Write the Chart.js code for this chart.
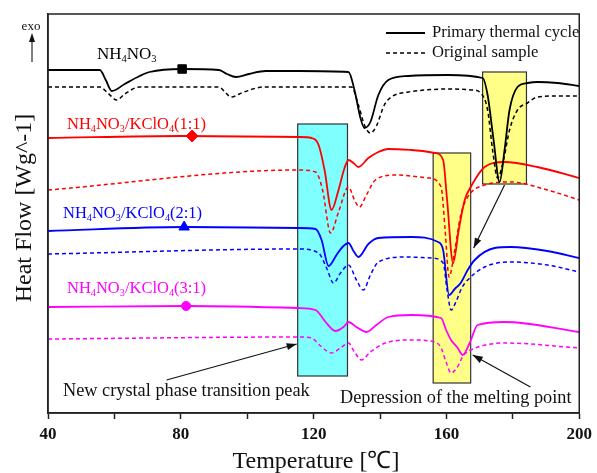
<!DOCTYPE html>
<html>
<head>
<meta charset="utf-8">
<script src="https://cdn.jsdelivr.net/npm/chart.js@4.4.0/dist/chart.umd.min.js"></script>
<style>
  html, body { margin: 0; padding: 0; background: #fff; }
</style>
</head>
<body>
<canvas id="dsc" width="597" height="473"></canvas>
<script>
// temperatures (°C) and heat flow (arbitrary offset units)
const anPrimaryT = [40, 55.6, 57.4, 59.2, 63.1, 67.6, 70.6, 80.4, 91.5, 93.9, 96.6, 100.5, 105.6, 115.5, 130.5, 132.3, 134.1, 135.3, 137.1, 139.5, 142.5, 148.5, 160.4, 170.9, 172.4, 174.2, 176.0, 177.5, 179.0, 181.4, 184.4, 187.4, 193.4, 200];
const anPrimaryV = [34.3, 34.3, 33.3, 32.2, 32.9, 33.7, 34.1, 34.4, 34.3, 33.9, 33.6, 33.9, 34.2, 34.2, 34.1, 32.3, 29.5, 28.5, 29.1, 31.8, 33.3, 33.7, 33.8, 33.5, 31.8, 27.3, 23.1, 26.3, 30.3, 32.6, 33.0, 33.1, 33.0, 32.7];
const anOrigT = [40, 55.6, 58.0, 60.7, 63.1, 67.6, 91.5, 93.3, 95.1, 99.0, 105.0, 115.5, 131.4, 133.5, 135.3, 137.1, 138.9, 141.3, 143.4, 148.5, 153.6, 160.4, 167.9, 170.3, 172.4, 173.9, 175.4, 177.2, 179.0, 181.4, 184.4, 187.4, 193.4, 200];
const anOrigV = [32.6, 32.6, 32.0, 31.3, 31.9, 32.6, 32.6, 32.1, 31.6, 32.1, 32.6, 32.6, 32.6, 30.8, 28.8, 28.0, 28.7, 30.8, 31.6, 32.1, 32.3, 32.4, 32.3, 32.0, 30.3, 26.3, 23.5, 25.3, 28.3, 30.3, 31.0, 31.6, 31.7, 31.7];

const mix11PrimaryT = [40, 80.4, 115.5, 119.4, 121.5, 123.3, 125.4, 127.5, 129.3, 130.5, 132.0, 133.5, 136.5, 139.5, 142.5, 149.4, 156.6, 159.0, 160.2, 162.0, 163.7, 165.5, 167.3, 171.5, 177.5, 187.4, 200];
const mix11PrimaryV = [27.5, 27.7, 27.6, 27.5, 26.8, 24.3, 20.3, 22.3, 24.5, 25.3, 25.0, 24.6, 25.5, 26.1, 26.4, 26.3, 26.0, 25.3, 21.3, 15.0, 18.3, 21.3, 22.6, 24.6, 25.1, 24.6, 23.5];
const mix11OrigT = [40, 115.5, 120.6, 122.7, 125.1, 127.5, 130.5, 132.3, 133.8, 135.9, 138.6, 144.6, 154.5, 158.4, 159.6, 160.8, 162.5, 164.3, 166.4, 171.5, 179.3, 190.4, 200];
const mix11OrigV = [22.3, 24.3, 24.1, 22.3, 18.0, 20.1, 22.6, 21.3, 20.6, 21.8, 23.3, 23.8, 23.5, 22.6, 18.3, 13.6, 16.3, 19.8, 21.6, 22.8, 23.1, 22.3, 21.3];

const mix21PrimaryT = [40, 81.0, 115.5, 120.6, 122.4, 124.5, 126.9, 128.7, 130.5, 132.0, 133.5, 136.5, 139.5, 149.4, 157.5, 159.0, 160.8, 162.5, 164.3, 166.4, 168.5, 174.5, 179.3, 190.4, 200];
const mix21PrimaryV = [18.2, 18.6, 18.5, 18.4, 17.3, 14.7, 15.8, 16.6, 17.0, 16.2, 15.6, 16.9, 17.5, 17.6, 17.1, 16.3, 11.8, 12.4, 13.0, 14.3, 15.3, 16.5, 16.6, 16.2, 15.5];
const mix21OrigT = [40, 115.5, 121.5, 123.9, 126.0, 128.1, 130.5, 132.9, 135.0, 137.1, 139.5, 147.6, 155.4, 159.0, 160.2, 161.4, 163.1, 164.6, 166.4, 171.5, 179.3, 190.4, 200];
const mix21OrigV = [15.9, 16.4, 16.0, 14.5, 13.0, 14.0, 14.8, 13.3, 12.3, 13.8, 15.1, 15.6, 15.5, 15.0, 12.3, 10.3, 11.3, 12.5, 13.3, 14.6, 15.1, 14.8, 14.1];

const mix31PrimaryT = [40, 81.6, 115.5, 120.6, 123.6, 126.6, 129.0, 130.5, 132.9, 135.9, 138.9, 142.5, 149.4, 158.4, 159.9, 161.4, 163.4, 164.9, 167.0, 169.4, 177.5, 200];
const mix31PrimaryV = [10.6, 10.7, 10.5, 10.3, 9.1, 8.2, 8.6, 9.1, 8.6, 8.1, 8.8, 9.6, 9.8, 9.5, 8.3, 7.3, 6.5, 5.8, 7.0, 8.8, 9.1, 8.1];
const mix31OrigT = [40, 115.5, 119.4, 122.1, 125.4, 128.1, 130.5, 132.3, 134.4, 137.1, 141.6, 149.4, 156.6, 158.4, 159.9, 161.4, 163.1, 165.2, 167.3, 177.5, 200];
const mix31OrigV = [7.4, 7.6, 7.5, 6.7, 6.0, 6.5, 7.0, 6.1, 5.3, 6.1, 7.0, 7.3, 7.1, 6.5, 5.1, 4.0, 4.5, 5.8, 6.3, 7.0, 6.5];

// one marker on each primary curve
const markerT = [80.4, 83.4, 81.0, 81.6];
const markerV = [34.4, 27.7, 18.6, 10.7];
const markerStyle = ['rect', 'rectRot', 'triangle', 'circle'];

const sampleLabels = ['NH_4NO_3', 'NH_4NO_3/KClO_4(1:1)', 'NH_4NO_3/KClO_4(2:1)', 'NH_4NO_3/KClO_4(3:1)'];
const sampleColors = ['#000000', '#ff0000', '#0000ff', '#ff00ff'];
const xTickLabels = [40, 80, 120, 160, 200];

const SERIF = '"Liberation Serif", "Times New Roman", serif';

function pts(t, v) {
  return t.map((x, i) => ({ x: x, y: v[i] }));
}

const curves = [
  [anPrimaryT, anPrimaryV, anOrigT, anOrigV],
  [mix11PrimaryT, mix11PrimaryV, mix11OrigT, mix11OrigV],
  [mix21PrimaryT, mix21PrimaryV, mix21OrigT, mix21OrigV],
  [mix31PrimaryT, mix31PrimaryV, mix31OrigT, mix31OrigV]
];

const datasets = [];
curves.forEach((c, i) => {
  datasets.push({
    data: pts(c[0], c[1]), borderColor: sampleColors[i], borderWidth: 1.8,
    pointRadius: 0, cubicInterpolationMode: 'monotone', fill: false
  });
  datasets.push({
    data: pts(c[2], c[3]), borderColor: sampleColors[i], borderWidth: 1.5,
    borderDash: [4, 3], pointRadius: 0, cubicInterpolationMode: 'monotone', fill: false
  });
});
markerT.forEach((t, i) => {
  datasets.push({
    type: 'scatter', data: [{ x: t, y: markerV[i] }],
    pointStyle: markerStyle[i], pointRadius: i === 3 ? 4.5 : 6,
    backgroundColor: sampleColors[i], borderColor: sampleColors[i], borderWidth: 1
  });
});

// annotation boxes / arrows in data units
const boxes = [
  { x0: 115.2, x1: 130.2, y0: 3.7, y1: 28.9, fill: '#80ffff' },
  { x0: 156.0, x1: 167.3, y0: 3.0, y1: 26.0, fill: '#ffff88' },
  { x0: 170.9, x1: 184.1, y0: 22.9, y1: 34.1, fill: '#ffff88' }
];
const arrows = [
  { from: [75.7, 3.3], to: [114.9, 6.9] },
  { from: [177.5, 22.8], to: [168.2, 16.5] },
  { from: [185.3, 2.6], to: [167.9, 5.8] }
];

function drawRich(ctx, str, x, y, size, color) {
  ctx.fillStyle = color;
  ctx.textAlign = 'left';
  ctx.textBaseline = 'alphabetic';
  str.split(/(_\d)/).forEach(p => {
    if (!p) return;
    if (p[0] === '_') {
      ctx.font = (size * 0.62) + 'px ' + SERIF;
      ctx.fillText(p[1], x, y + size * 0.2);
      x += ctx.measureText(p[1]).width;
    } else {
      ctx.font = size + 'px ' + SERIF;
      ctx.fillText(p, x, y);
      x += ctx.measureText(p).width;
    }
  });
}

function arrowHead(ctx, x0, y0, x1, y1, len, half) {
  const a = Math.atan2(y1 - y0, x1 - x0);
  ctx.beginPath();
  ctx.moveTo(x1, y1);
  ctx.lineTo(x1 - len * Math.cos(a) + half * Math.sin(a), y1 - len * Math.sin(a) - half * Math.cos(a));
  ctx.lineTo(x1 - len * Math.cos(a) - half * Math.sin(a), y1 - len * Math.sin(a) + half * Math.cos(a));
  ctx.closePath();
  ctx.fill();
}

const decor = {
  id: 'decor',
  beforeDatasetsDraw(chart) {
    const { ctx, scales: { x, y } } = chart;
    ctx.save();
    boxes.forEach(b => {
      const l = x.getPixelForValue(b.x0), r = x.getPixelForValue(b.x1);
      const t = y.getPixelForValue(b.y1), btm = y.getPixelForValue(b.y0);
      ctx.fillStyle = b.fill;
      ctx.fillRect(l, t, r - l, btm - t);
      ctx.strokeStyle = '#333';
      ctx.lineWidth = 1.2;
      ctx.strokeRect(l, t, r - l, btm - t);
    });
    ctx.restore();
  },
  afterDraw(chart) {
    const { ctx, chartArea: ca, scales: { x, y } } = chart;
    ctx.save();
    // frame
    ctx.strokeStyle = '#222';
    ctx.lineWidth = 1.5;
    ctx.strokeRect(ca.left, ca.top, ca.right - ca.left, ca.bottom - ca.top);

    // arrows
    ctx.strokeStyle = '#111';
    ctx.fillStyle = '#111';
    ctx.lineWidth = 1.2;
    arrows.forEach(a => {
      const x0 = x.getPixelForValue(a.from[0]), y0 = y.getPixelForValue(a.from[1]);
      const x1 = x.getPixelForValue(a.to[0]), y1 = y.getPixelForValue(a.to[1]);
      ctx.beginPath();
      ctx.moveTo(x0, y0);
      ctx.lineTo(x1, y1);
      ctx.stroke();
      arrowHead(ctx, x0, y0, x1, y1, 10, 3.5);
    });

    // sample labels
    drawRich(ctx, sampleLabels[0], 97, 59, 17, sampleColors[0]);
    drawRich(ctx, sampleLabels[1], 67, 129, 16.5, sampleColors[1]);
    drawRich(ctx, sampleLabels[2], 63, 218, 16.5, sampleColors[2]);
    drawRich(ctx, sampleLabels[3], 67, 293, 16.5, sampleColors[3]);

    // notes
    ctx.fillStyle = '#111';
    ctx.font = '18.3px ' + SERIF;
    ctx.textBaseline = 'alphabetic';
    ctx.textAlign = 'left';
    ctx.fillText('New crystal phase transition peak', 63, 396);
    ctx.fillText('Depression of the melting point', 340, 403);

    // legend
    ctx.strokeStyle = '#000';
    ctx.lineWidth = 2;
    ctx.beginPath(); ctx.moveTo(386, 33); ctx.lineTo(425, 33); ctx.stroke();
    ctx.lineWidth = 1.5;
    ctx.setLineDash([4, 3]);
    ctx.beginPath(); ctx.moveTo(386, 53); ctx.lineTo(425, 53); ctx.stroke();
    ctx.setLineDash([]);
    ctx.fillStyle = '#111';
    ctx.font = '16.6px ' + SERIF;
    ctx.textBaseline = 'middle';
    ctx.fillText('Primary thermal cycle', 432, 33);
    ctx.fillText('Original sample', 432, 53);

    // exo arrow
    ctx.font = '13px ' + SERIF;
    ctx.textAlign = 'center';
    ctx.fillText('exo', 31, 27);
    ctx.lineWidth = 1;
    ctx.beginPath(); ctx.moveTo(32, 62); ctx.lineTo(32, 40); ctx.stroke();
    arrowHead(ctx, 32, 62, 32, 33, 9, 3);

    // axis titles
    ctx.font = '24px ' + SERIF;
    ctx.textBaseline = 'middle';
    ctx.textAlign = 'center';
    ctx.fillText('Temperature [\u2103]', 316, 462);
    ctx.translate(25, 208);
    ctx.rotate(-Math.PI / 2);
    ctx.fillText('Heat Flow [Wg^-1]', 0, 0);
    ctx.restore();
  }
};

new Chart(document.getElementById('dsc'), {
  type: 'line',
  data: { datasets: datasets },
  options: {
    responsive: false,
    animation: false,
    layout: { padding: { left: 48, right: 15, top: 14, bottom: 0 } },
    plugins: { legend: { display: false }, tooltip: { enabled: false } },
    scales: {
      x: {
        type: 'linear', min: 40, max: 200,
        afterFit(s) { s.height = 60; },
        ticks: {
          stepSize: 20, padding: 5, color: '#111',
          font: { family: SERIF, size: 17, weight: 'bold' },
          callback: v => (xTickLabels.includes(v) ? String(v) : '')
        },
        grid: { drawOnChartArea: false, tickLength: 6, tickColor: '#222', tickWidth: 1.5 },
        border: { color: '#222', width: 1.5 }
      },
      y: {
        min: 0, max: 39.9,
        afterFit(s) { s.width = 0; },
        ticks: { display: false },
        grid: { drawOnChartArea: false, drawTicks: false },
        border: { color: '#222', width: 1.5 }
      }
    }
  },
  plugins: [decor]
});
</script>
</body>
</html>
